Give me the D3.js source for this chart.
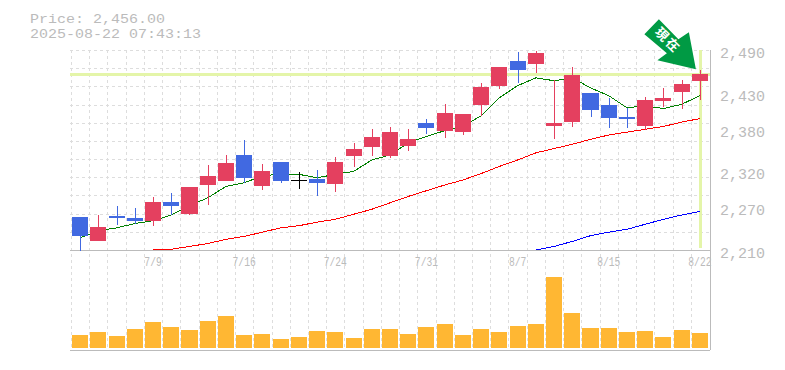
<!DOCTYPE html>
<html>
<head>
<meta charset="utf-8">
<script src="https://cdn.jsdelivr.net/npm/d3@7"></script>
<style>
  body { margin: 0; background: #fff; }
  svg { display: block; }
  text { font-family: "Liberation Mono", monospace; fill: #bbb; }
</style>
</head>
<body>
<div id="chart"></div>
<script>
const dates = ["7/3","7/4","7/7","7/8","7/9","7/10","7/11","7/14","7/15","7/16","7/17","7/18","7/22","7/23","7/24","7/25","7/28","7/29","7/30","7/31","8/1","8/4","8/5","8/6","8/7","8/8","8/12","8/13","8/14","8/15","8/18","8/19","8/20","8/21","8/22"];
const tickDates = ["7/9","7/16","7/24","7/31","8/7","8/15","8/22"];
const priceTicks = [2210,2270,2320,2380,2430,2490];

const opens  = [2256,2223,2258,2255,2251,2277,2260,2301,2307,2343,2300,2333,2308,2309,2302,2342,2354,2342,2356,2388,2377,2375,2413,2440,2475,2470,2384,2389,2430,2413,2396,2384,2419,2431,2447];
const closes = [2230,2242,2255,2251,2277,2272,2298,2314,2332,2311,2321,2307,2308,2304,2333,2351,2368,2375,2365,2381,2402,2400,2438,2466,2462,2486,2388,2455,2406,2395,2393,2420,2423,2442,2456];
const highs  = [2256,2259,2272,2269,2284,2290,2298,2329,2343,2364,2330,2333,2319,2322,2340,2360,2379,2382,2379,2393,2414,2400,2444,2466,2487,2489,2448,2466,2430,2423,2409,2424,2437,2448,2462];
const lows   = [2209,2223,2245,2247,2244,2259,2259,2273,2307,2304,2294,2304,2295,2286,2291,2326,2342,2339,2349,2372,2367,2371,2398,2435,2444,2458,2365,2382,2396,2381,2381,2378,2410,2407,2420];

const maShort = [2227,2237,2241,2247,2251,2259,2272,2283,2299,2304,2314,2316,2316,2311,2316,2320,2336,2343,2360,2369,2377,2383,2398,2423,2440,2451,2447,2451,2437,2426,2409,2412,2408,2414,2426];
const maMid   = [null,null,null,null,2210,2211,2215,2219,2225,2229,2235,2241,2244,2249,2253,2260,2267,2276,2285,2293,2301,2308,2317,2327,2336,2346,2352,2358,2365,2371,2375,2379,2383,2389,2394];
const maLong  = [null,null,null,null,null,null,null,null,null,null,null,null,null,null,null,null,null,null,null,null,null,null,null,null,null,2210,2215,2222,2230,2235,2239,2246,2253,2259,2264];

const volumes = [13,16,12,19,26,21,18,27,32,13,14,9,11,17,16,10,19,19,14,21,24,13,19,16,22,24,71,35,20,20,16,17,11,18,15];

const lastPrice = 2456;
const headerLines = ["Price: 2,456.00","2025-08-22 07:43:13"];

const width = 785, height = 370;
const left = 70, right = 710;
const priceTop = 50, priceBottom = 250, volBottom = 350;

const upColor = "#e4405f", downColor = "#4169e1", flatColor = "#000";
const gridColor = "#ddd", axisColor = "#bbb", hiliteColor = "#e4f5a9";

const svg = d3.select("#chart").append("svg")
  .attr("width", width)
  .attr("height", height);

const x = d3.scaleBand().domain(dates).range([left + 1, right - 1]).paddingInner(0.12).paddingOuter(0.06);
const y = d3.scaleLinear().domain([2210, 2490]).range([priceBottom, priceTop]);
const yVol = d3.scaleLinear().domain([0, 75]).range([348, 273]);
const cx = d => x(d) + x.bandwidth() / 2;

// grid
const grid = svg.append("g")
  .attr("stroke", gridColor)
  .attr("stroke-dasharray", "3,3")
  .attr("shape-rendering", "crispEdges");

grid.selectAll("line.v")
  .data(dates)
  .join("line")
  .attr("class", "v")
  .attr("x1", d => Math.round(x(d) - x.step() * 0.06) + 0.5)
  .attr("x2", d => Math.round(x(d) - x.step() * 0.06) + 0.5)
  .attr("y1", priceTop)
  .attr("y2", volBottom);

grid.selectAll("line.h")
  .data(d3.range(0, 11))
  .join("line")
  .attr("class", "h")
  .attr("x1", left)
  .attr("x2", right)
  .attr("y1", i => Math.round(priceTop + i * (priceBottom - priceTop) / 11) + 0.5)
  .attr("y2", i => Math.round(priceTop + i * (priceBottom - priceTop) / 11) + 0.5);

// frame
const frame = svg.append("g").attr("stroke", axisColor).attr("stroke-width", 1).attr("shape-rendering", "crispEdges");
frame.append("line").attr("x1", left).attr("x2", right).attr("y1", priceBottom + 0.5).attr("y2", priceBottom + 0.5);
frame.append("line").attr("x1", left).attr("x2", right).attr("y1", volBottom + 0.5).attr("y2", volBottom + 0.5);
frame.append("line").attr("x1", right + 0.5).attr("x2", right + 0.5).attr("y1", priceTop).attr("y2", volBottom);

// current price highlight
svg.append("line")
  .attr("x1", left).attr("x2", right)
  .attr("y1", Math.round(y(lastPrice)) + 0.5).attr("y2", Math.round(y(lastPrice)) + 0.5)
  .attr("stroke", hiliteColor).attr("stroke-width", 3)
  .attr("shape-rendering", "crispEdges");
svg.append("line")
  .attr("x1", Math.round(cx("8/22")) + 0.5).attr("x2", Math.round(cx("8/22")) + 0.5)
  .attr("y1", priceTop).attr("y2", 248)
  .attr("stroke", hiliteColor).attr("stroke-width", 3)
  .attr("shape-rendering", "crispEdges");

// volume
svg.append("g").selectAll("rect")
  .data(dates)
  .join("rect")
  .attr("x", d => x(d))
  .attr("width", x.bandwidth())
  .attr("y", (d, i) => yVol(volumes[i]))
  .attr("height", (d, i) => yVol(0) - yVol(volumes[i]))
  .attr("fill", "#ffb733")
  .attr("shape-rendering", "crispEdges");

// moving averages go under the candles
function drawLine(values, color) {
  const line = d3.line()
    .defined(d => d[1] !== null)
    .x(d => cx(d[0]))
    .y(d => y(d[1]));
  svg.append("path")
    .attr("d", line(dates.map((d, i) => [d, values[i]])))
    .attr("fill", "none")
    .attr("stroke", color)
    .attr("stroke-width", 1)
    .attr("shape-rendering", "crispEdges");
}
drawLine(maShort, "#008000");
drawLine(maMid, "#ff0000");
drawLine(maLong, "#0000ff");

// candles
const candleColor = i => closes[i] > opens[i] ? upColor : closes[i] < opens[i] ? downColor : flatColor;
const candles = svg.append("g").attr("shape-rendering", "crispEdges");

candles.selectAll("line")
  .data(dates)
  .join("line")
  .attr("x1", d => Math.round(cx(d)) + 0.5)
  .attr("x2", d => Math.round(cx(d)) + 0.5)
  .attr("y1", (d, i) => y(highs[i]))
  .attr("y2", (d, i) => y(lows[i]))
  .attr("stroke", (d, i) => candleColor(i))
  .attr("stroke-width", 1);

candles.selectAll("rect")
  .data(dates)
  .join("rect")
  .attr("x", d => x(d))
  .attr("width", x.bandwidth())
  .attr("y", (d, i) => y(Math.max(opens[i], closes[i])))
  .attr("height", (d, i) => Math.max(1, Math.abs(y(opens[i]) - y(closes[i]))))
  .attr("fill", (d, i) => candleColor(i));

// arrow
const tipX = cx("8/22") - 4, tipY = y(lastPrice) - 5;
const arrowShape = [[-51.5,-35],[-37,-50],[-17.5,-30],[-7,-37],[0,0],[-38.5,-9],[-29,-16]];
svg.append("polygon")
  .attr("points", arrowShape.map(p => [tipX + p[0], tipY + p[1]].join(",")).join(" "))
  .attr("fill", "#009a44");
svg.append("text")
  .attr("transform", `translate(${tipX - 28},${tipY - 29}) rotate(45)`)
  .attr("text-anchor", "middle")
  .attr("dy", "0.35em")
  .style("font-family", "'Noto Sans CJK JP'")
  .style("font-size", "13px")
  .style("font-weight", "bold")
  .style("letter-spacing", "2px")
  .style("fill", "#fff")
  .text("現在");

// labels
svg.append("g").selectAll("text")
  .data(headerLines)
  .join("text")
  .attr("x", 30)
  .attr("y", (d, i) => 23 + i * 15)
  .attr("textLength", d => d.length * 9)
  .attr("lengthAdjust", "spacingAndGlyphs")
  .style("font-size", "13px")
  .text(d => d);

svg.append("g").selectAll("text")
  .data(priceTicks)
  .join("text")
  .attr("x", 720)
  .attr("y", d => y(d) + 8)
  .style("font-size", "15px")
  .text(d => d3.format(",")(d));

svg.append("g").selectAll("text")
  .data(tickDates)
  .join("text")
  .attr("x", d => cx(d))
  .attr("y", 266)
  .attr("text-anchor", "middle")
  .attr("textLength", d => d.length * 5.8)
  .attr("lengthAdjust", "spacingAndGlyphs")
  .style("font-size", "13px")
  .text(d => d);
</script>
</body>
</html>
